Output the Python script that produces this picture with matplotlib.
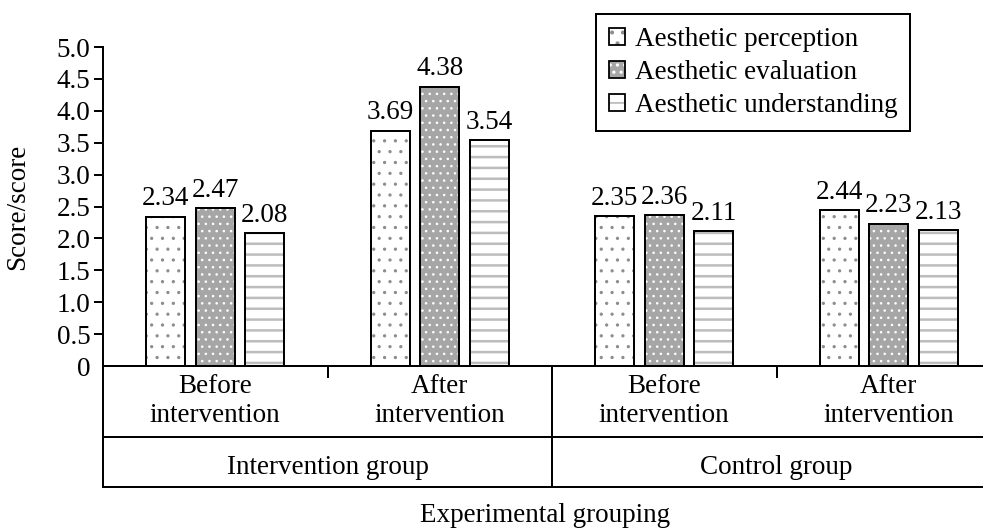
import matplotlib
matplotlib.use("Agg")
import matplotlib.pyplot as plt
import numpy as np
from matplotlib.patches import Patch
from matplotlib.legend_handler import HandlerTuple

# 데이터
categories = ["Before\nintervention", "After\nintervention",
              "Before\nintervention", "After\nintervention"]
groups = ["Intervention group", "Control group"]
series_names = ["Aesthetic perception", "Aesthetic evaluation", "Aesthetic understanding"]
perception = [2.34, 3.69, 2.35, 2.44]
evaluation = [2.47, 4.38, 2.36, 2.23]
understanding = [2.08, 3.54, 2.11, 2.13]
yticks = [0, 0.5, 1.0, 1.5, 2.0, 2.5, 3.0, 3.5, 4.0, 4.5, 5.0]

plt.rcParams['font.family'] = ['Liberation Serif', 'DejaVu Serif']
FS = 15

DPI = 130
fig = plt.figure(figsize=(983 / DPI, 529 / DPI), dpi=DPI)
ax = fig.add_axes([103 / 983, 0.3081, (1001 - 103) / 983, 0.6030])

x = np.arange(len(categories))
width = 0.174
step = 0.22
# 패턴 스타일 (면색, 해치색, 해치, 해치 굵기)
styles = [
    dict(face="white", hatchc="#8c8c8c", hatch="..", hlw=0.6),
    dict(face="#a6a6a6", hatchc="white", hatch="...", hlw=0.6),
    dict(face="white", hatchc="#bdbdbd", hatch="--", hlw=1.4),
]
all_series = [perception, evaluation, understanding]

handles = []
for i, (vals, st) in enumerate(zip(all_series, styles)):
    pos = x + (i - 1) * step
    with plt.rc_context({'hatch.linewidth': st["hlw"]}):
        ax.bar(pos, vals, width, color=st["face"], edgecolor=st["hatchc"],
               hatch=st["hatch"], linewidth=0, zorder=2)
        h1 = Patch(facecolor=st["face"], edgecolor=st["hatchc"], hatch=st["hatch"], linewidth=0)
    ax.bar(pos, vals, width, fill=False, edgecolor="black", linewidth=1.1, zorder=3)
    for p, v in zip(pos, vals):
        ax.annotate(f"{v:.2f}", (p, v), xytext=(0, 3), textcoords="offset points",
                    ha="center", va="bottom", fontsize=FS)
    h2 = Patch(fill=False, edgecolor="black", linewidth=1.0)
    handles.append((h1, h2))

ax.set_xlim(-0.5, 3.5)
ax.set_ylim(0, 5.0)
ax.set_yticks(yticks)
ax.set_yticklabels(["0"] + [f"{t:.1f}" for t in yticks[1:]], fontsize=FS)
ax.set_xticks([])
ax.tick_params(axis="y", length=5, width=1.1, pad=2, color="black")
ax.yaxis.get_major_ticks()[0].tick1line.set_visible(False)
for s in ["top", "right"]:
    ax.spines[s].set_visible(False)
ax.spines["left"].set_linewidth(1.1)
ax.spines["bottom"].set_linewidth(1.1)

# 아래쪽 분류 표
tr = ax.get_xaxis_transform()
row1 = -0.2226
row2 = -0.379
lw = 1.1
ax.plot([-0.5, 3.6], [row1, row1], color="black", lw=lw, transform=tr, clip_on=False)
ax.plot([-0.5, 3.6], [row2, row2], color="black", lw=lw, transform=tr, clip_on=False)
ax.plot([-0.5, -0.5], [0, row2], color="black", lw=lw, transform=tr, clip_on=False)
ax.plot([1.5, 1.5], [0, row2], color="black", lw=lw, transform=tr, clip_on=False)
for b in [0.5, 2.5]:
    ax.plot([b, b], [0, -0.035], color="black", lw=lw, transform=tr, clip_on=False)

for xi, c in zip(x, categories):
    ax.text(xi, -0.11, c, transform=tr, ha="center", va="center",
            fontsize=FS, linespacing=1.2)
for gi, g in enumerate(groups):
    ax.text(0.5 + 2 * gi, -0.317, g, transform=tr, ha="center", va="center", fontsize=FS)

fig.text(545 / 983, (529 - 515) / 529, "Experimental grouping",
         ha="center", va="center", fontsize=FS)
fig.text(18 / 983, (529 - 207) / 529, "Score/score", rotation=90,
         ha="center", va="center", fontsize=FS)

leg = fig.legend(handles, series_names,
                 handler_map={tuple: HandlerTuple(ndivide=1, pad=0)},
                 loc="upper left", bbox_to_anchor=(596 / 983, 1 - 14 / 529),
                 bbox_transform=fig.transFigure, borderaxespad=0, fontsize=FS,
                 fancybox=False, framealpha=1, edgecolor="black",
                 handlelength=0.6, handleheight=0.6, handletextpad=0.35,
                 labelspacing=0.3, borderpad=0.48)
leg.get_frame().set_linewidth(1.1)

fig.savefig("out.png", dpi=DPI)
